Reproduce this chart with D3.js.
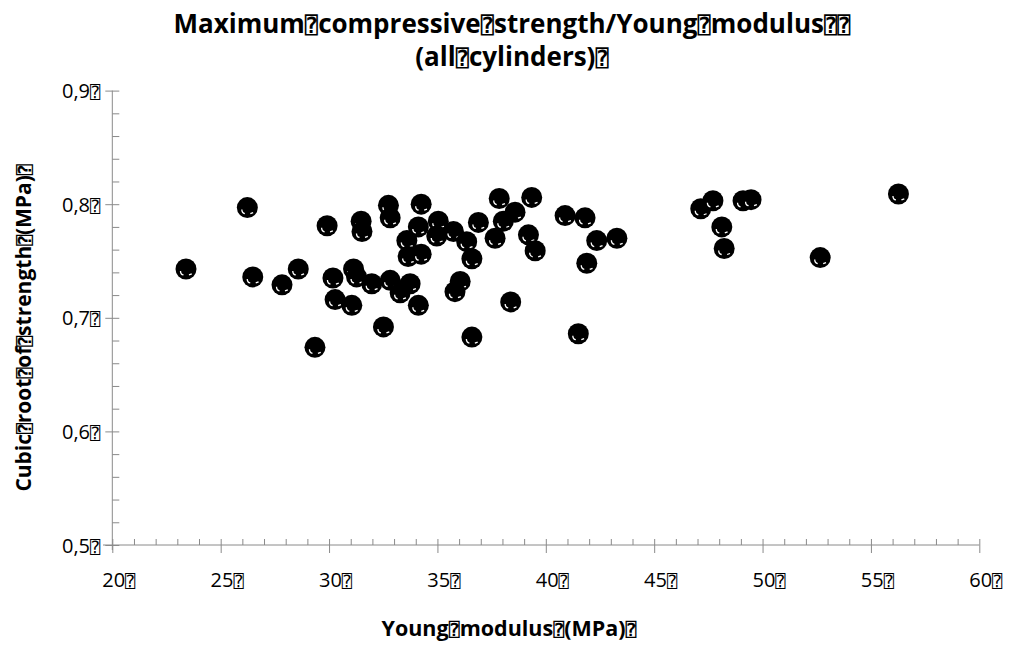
<!DOCTYPE html>
<html>
<head>
<meta charset="utf-8">
<script src="https://cdn.jsdelivr.net/npm/d3@7"></script>
<style>
  body { margin: 0; background: #fff; }
  text { font-family: "Open Sans", sans-serif; fill: #000; }
  .tofu { font-family: "DejaVu Sans Mono", "DejaVu Sans", sans-serif; font-size: 0.85em; }
</style>
</head>
<body>
<script>
// values
let youngModulus = [
  26.23, 23.40, 29.91, 31.48, 31.52, 26.48, 28.58, 27.83, 30.18, 31.13,
  31.27, 30.28, 31.05, 29.35, 32.74, 32.82, 34.25, 34.12, 33.59, 33.65,
  34.25, 35.04, 34.97, 35.74, 36.35, 36.89, 37.85, 39.35, 38.58, 38.04,
  37.66, 39.20, 39.51, 36.59, 31.97, 32.82, 33.74, 33.28, 34.12, 36.05,
  35.81, 38.38, 32.51, 36.59, 40.89, 41.81, 42.35, 43.28, 41.89, 41.50,
  47.15, 47.71, 48.12, 48.23, 49.10, 49.47, 52.66, 56.27
];
let cubicRootStrength = [
  0.797, 0.743, 0.781, 0.785, 0.776, 0.736, 0.743, 0.729, 0.735, 0.743,
  0.736, 0.716, 0.711, 0.674, 0.799, 0.788, 0.800, 0.780, 0.768, 0.754,
  0.756, 0.785, 0.772, 0.776, 0.767, 0.784, 0.805, 0.806, 0.793, 0.785,
  0.770, 0.773, 0.759, 0.752, 0.730, 0.733, 0.730, 0.722, 0.711, 0.732,
  0.723, 0.714, 0.692, 0.683, 0.790, 0.788, 0.768, 0.770, 0.748, 0.686,
  0.796, 0.803, 0.780, 0.761, 0.803, 0.804, 0.753, 0.809
];

let xTickValues = [20, 25, 30, 35, 40, 45, 50, 55, 60];
let xTickLabels = ["20⍰", "25⍰", "30⍰", "35⍰", "40⍰", "45⍰", "50⍰", "55⍰", "60⍰"];
let yTickValues = [0.5, 0.6, 0.7, 0.8, 0.9];
let yTickLabels = ["0,5⍰", "0,6⍰", "0,7⍰", "0,8⍰", "0,9⍰"];

let titleLines = ["Maximum⍰compressive⍰strength/Young⍰modulus⍰⍰", "(all⍰cylinders)⍰"];
let xTitle = "Young⍰modulus⍰(MPa)⍰";
let yTitle = "Cubic⍰root⍰of⍰strength⍰(MPa)⍰";

let width = 1011, height = 645;
let axisColor = "#8a8a8a";

let x = d3.scaleLinear().domain([20, 60]).range([112.3, 979.3]);
let y = d3.scaleLinear().domain([0.5, 0.9]).range([545, 90.6]);

let svg = d3.select("body").append("svg")
  .attr("width", width)
  .attr("height", height);

// writes a string, drawing the missing-glyph boxes as their own tspans
function boxText(sel, str) {
  let parts = str.split("⍰");
  parts.forEach(function (p, i) {
    if (p) sel.append("tspan").text(p);
    if (i < parts.length - 1) {
      sel.append("tspan").attr("class", "tofu").text("⍰");
    }
  });
}

// x axis
let xAxis = svg.append("g")
  .attr("transform", "translate(0," + y(0.5) + ")")
  .call(d3.axisBottom(x)
    .tickValues(xTickValues)
    .tickSize(8)
    .tickSizeOuter(0)
    .tickFormat(""));
xAxis.select(".domain").remove();
xAxis.selectAll(".tick line").attr("y1", -6).attr("stroke", axisColor);

let xMinor = svg.append("g")
  .attr("transform", "translate(0," + y(0.5) + ")")
  .call(d3.axisBottom(x)
    .tickValues(d3.range(21, 60).filter((d) => d % 5 != 0))
    .tickSize(-6)
    .tickSizeOuter(0)
    .tickFormat(""));
xMinor.select(".domain").remove();
xMinor.selectAll(".tick line").attr("stroke", axisColor);

xAxis.selectAll(".tick").append("text")
  .attr("x", 6)
  .attr("y", 42)
  .attr("text-anchor", "middle")
  .style("font-size", "20px")
  .each(function (d, i) {
    boxText(d3.select(this), xTickLabels[i]);
  });

svg.append("line")
  .attr("x1", 103).attr("x2", x(60))
  .attr("y1", y(0.5)).attr("y2", y(0.5))
  .attr("stroke", axisColor);

// y axis
let yAxis = svg.append("g")
  .attr("transform", "translate(" + x(20) + ",0)")
  .call(d3.axisLeft(y)
    .tickValues(yTickValues)
    .tickSize(7)
    .tickSizeOuter(0)
    .tickFormat(""));
yAxis.select(".domain").remove();
yAxis.selectAll(".tick line").attr("x1", 7).attr("stroke", axisColor);

let yMinor = svg.append("g")
  .attr("transform", "translate(" + x(20) + ",0)")
  .call(d3.axisLeft(y)
    .tickValues(d3.range(0.52, 0.9, 0.02).filter((d) => Math.round(d * 100) % 10 != 0))
    .tickSize(-7)
    .tickSizeOuter(0)
    .tickFormat(""));
yMinor.select(".domain").remove();
yMinor.selectAll(".tick line").attr("stroke", axisColor);

yAxis.selectAll(".tick").append("text")
  .attr("x", -12)
  .attr("y", 7)
  .attr("text-anchor", "end")
  .style("font-size", "20px")
  .each(function (d, i) {
    boxText(d3.select(this), yTickLabels[i]);
  });

svg.append("line")
  .attr("x1", x(20)).attr("x2", x(20))
  .attr("y1", y(0.9)).attr("y2", y(0.5) + 5)
  .attr("stroke", axisColor);

// points
let dots = svg.append("g")
  .selectAll("g")
  .data(youngModulus)
  .enter()
  .append("g")
  .attr("transform", function (d, i) {
    return "translate(" + x(d) + "," + y(cubicRootStrength[i]) + ")";
  });

dots.append("circle")
  .attr("r", 10.5)
  .attr("fill", "#000");
dots.append("path")
  .attr("d", "M-5.5,2 Q-5.5,5.5 -2.5,6")
  .attr("fill", "none")
  .attr("stroke", "#fff")
  .attr("stroke-width", 1.3);
dots.append("path")
  .attr("d", "M3,6 L5.8,5")
  .attr("fill", "none")
  .attr("stroke", "#fff")
  .attr("stroke-width", 1.3);

// titles
titleLines.forEach(function (line, i) {
  let t = svg.append("text")
    .attr("x", 512)
    .attr("y", 33 + i * 33)
    .attr("text-anchor", "middle")
    .style("font-size", "26px")
    .style("font-weight", "bold");
  boxText(t, line);
});

let xt = svg.append("text")
  .attr("x", 509)
  .attr("y", 636)
  .attr("text-anchor", "middle")
  .style("font-size", "21.5px")
  .style("font-weight", "bold");
boxText(xt, xTitle);

let yt = svg.append("text")
  .attr("transform", "translate(31,328) rotate(-90)")
  .attr("text-anchor", "middle")
  .style("font-size", "21px")
  .style("font-weight", "bold");
boxText(yt, yTitle);
</script>
</body>
</html>
